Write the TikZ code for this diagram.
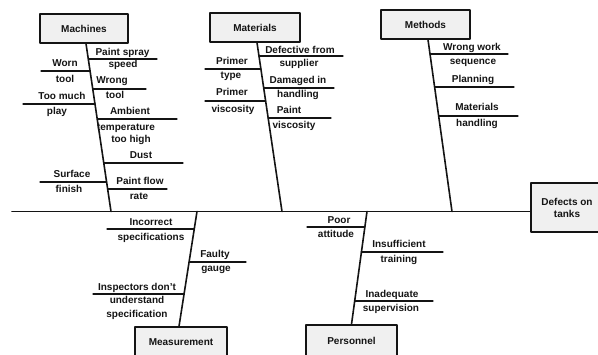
\documentclass[tikz,border=0pt]{standalone}
\usepackage{fontspec}
\setmainfont{Liberation Sans}
\definecolor{fishink}{HTML}{141414}
\definecolor{causefill}{HTML}{F0F0F0}

\begin{document}
\begin{tikzpicture}[
  x=1pt,
  y=-1pt,
  line join=round,
  line cap=round,
  cause/.style={draw=fishink,line width=1.3pt,fill=causefill,inner sep=0pt,
    font=\fontsize{10}{12}\selectfont\bfseries,text=fishink},
  bone/.style={draw=fishink,line width=1.6pt},
  twig/.style={draw=fishink,line width=1.1pt},
  tag/.style={anchor=base,inner sep=0pt,font=\fontsize{10}{12}\selectfont\bfseries,text=fishink}
]
  \useasboundingbox (0,0) rectangle (598,354);

  % Cause boxes and the effect box on the right.
  \node[cause,minimum width=88pt,minimum height=29pt] (machines) at (84,28.5) {Machines};
  \node[cause,minimum width=90pt,minimum height=29pt] (materials) at (255,27.5) {Materials};
  \node[cause,minimum width=89pt,minimum height=29pt] (methods) at (425.5,24.5) {Methods};
  \node[cause,minimum width=92pt,minimum height=30pt] (measurement) at (181,342) {Measurement};
  \node[cause,minimum width=91pt,minimum height=32pt] (personnel) at (351.5,341) {Personnel};
  \node[cause,minimum width=72pt,minimum height=49pt,align=center] (defects) at (567,207.5) {Defects on\\tanks};

  % Main spine.
  \coordinate (tail) at (12,211.5);
  \draw[bone] (tail) -- (defects.west |- tail);

  % Where each cause bone meets the spine.
  \coordinate (machinesend) at (111,211.5);
  \coordinate (materialsend) at (282,211.5);
  \coordinate (methodsend) at (452,211.5);
  \coordinate (measurementend) at (197,211.5);
  \coordinate (personnelend) at (367,211.5);

  \draw[bone] ([xshift=2pt]machines.south) -- (machinesend);
  \draw[bone] ([xshift=2pt]materials.south) -- (materialsend);
  \draw[bone] ([xshift=2.5pt]methods.south) -- (methodsend);
  \draw[bone] ([xshift=-2pt]measurement.north) -- (measurementend);
  \draw[bone] (personnel.north) -- (personnelend);

  % Sub-cause lines: name / height / left x / right x.
  \foreach \n/\y/\a/\b in {
      b1/59/88.4/157, b2/71/41/90.1, b3/89/92.8/146, b4/104/23/95,
      b5/119/97.2/177, b6/163/103.8/183, b7/182/40/106.6, b8/189/107.6/167,
      b9/56/259.1/343, b10/69/205/261, b11/88/263.8/334, b12/101/205/265.7,
      b13/118/268.2/331,
      b14/54/430.1/508, b15/87/434.7/514, b16/116/438.8/518,
      b17/229/107/194.3, b18/262/189.2/246, b19/294/93/184.2,
      b20/227/307/364.8, b21/252/361.2/443, b22/301/354.4/433} {
    \coordinate (\n l) at (\a,\y);
    \coordinate (\n r) at (\b,\y);
    \draw[twig] (\n l) -- (\n r);
  }

  % Sub-cause texts, one node per printed line.
  \foreach \n/\x/\y/\t in {
      mA1/122.5/55/Paint spray, mA2/123/67/speed,
      mB1/65/66/Worn, mB2/65/82/tool,
      mC1/112/83/Wrong, mC2/115/98/tool,
      mD1/62/99/Too much, mD2/57/114/play,
      mE1/130/114/Ambient, mE2/126/130/temperature, mE3/131/142/too high,
      mF1/141/158/Dust,
      mG1/72/177/Surface, mG2/69/192/finish,
      mH1/140/184/Paint flow, mH2/139/199/rate,
      aA1/300/53/Defective from, aA2/299/66/supplier,
      aB1/232/64/Primer, aB2/231/78/type,
      aC1/298/83/Damaged in, aC2/298/97/handling,
      aD1/232/95/Primer, aD2/233/112/viscosity,
      aE1/289/113/Paint, aE2/294/128/viscosity,
      tA1/472/50/Wrong work, tA2/473/64/sequence,
      tB1/473/82/Planning,
      tC1/477/110/Materials, tC2/477/126/handling,
      sA1/151/225/Incorrect, sA2/151/240/specifications,
      sB1/215/257/Faulty, sB2/216/271/gauge,
      sC1/137/290/Inspectors don't, sC2/137/303/understand, sC3/137/317/specification,
      pA1/339/223/Poor, pA2/336/237/attitude,
      pB1/399/247/Insufficient, pB2/399/262/training,
      pC1/392/297/Inadequate, pC2/391/311/supervision} {
    \node[tag] (\n) at (\x,\y) {\t};
  }
\end{tikzpicture}
\end{document}
